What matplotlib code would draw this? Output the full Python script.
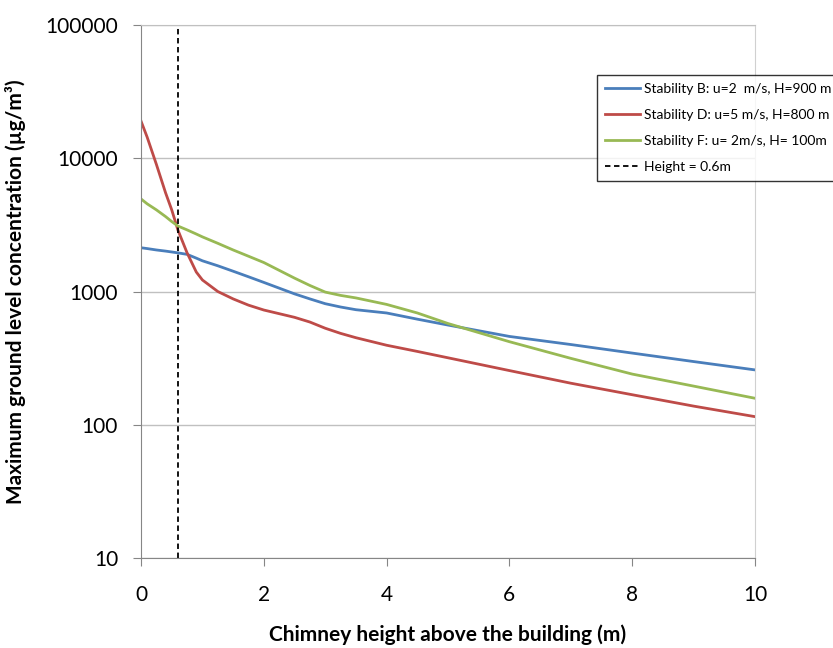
import matplotlib
matplotlib.use("Agg")
import matplotlib.pyplot as plt
from matplotlib.ticker import FixedLocator, FixedFormatter, NullLocator

plt.rcParams['font.family'] = ['Lato', 'DejaVu Sans']

# Chimney height above the building (m)
height = [0, 0.1, 0.25, 0.4, 0.5, 0.6, 0.75, 0.9, 1, 1.25, 1.5, 1.75, 2, 2.5, 2.75, 3, 3.25, 3.5, 4, 4.5, 5, 6, 7, 8, 9, 10]

# Maximum ground level concentration (ug/m3)
conc_b = [2130, 2100, 2050, 2010, 1980, 1950, 1900, 1780, 1700, 1560, 1420, 1290, 1170, 960, 880, 810, 765, 730, 690, 620, 560, 460, 400, 345, 298, 258]
conc_d = [19000, 14400, 9000, 5500, 4100, 2900, 1950, 1400, 1220, 1000, 880, 790, 726, 640, 590, 530, 485, 450, 395, 355, 318, 255, 205, 168, 138, 115]
conc_f = [4950, 4550, 4100, 3650, 3350, 3100, 2900, 2700, 2570, 2300, 2050, 1840, 1650, 1260, 1110, 990, 935, 895, 800, 690, 575, 420, 315, 240, 195, 158]

marker_height = 0.6

labels = ["Stability B: u=2  m/s, H=900 m",
          "Stability D: u=5 m/s, H=800 m",
          "Stability F: u= 2m/s, H= 100m",
          "Height = 0.6m"]

y_ticks = [10, 100, 1000, 10000, 100000]
x_ticks = [0, 2, 4, 6, 8, 10]

fig = plt.figure(figsize=(8.33, 6.48), dpi=100)
ax = fig.add_axes([0.1693, 0.1389, 0.9064 - 0.1693, 0.9614 - 0.1389])

ax.plot(height, conc_b, color='#4a7ebb', lw=2.0, label=labels[0])
ax.plot(height, conc_d, color='#be4b48', lw=2.0, label=labels[1])
ax.plot(height, conc_f, color='#98b954', lw=2.0, label=labels[2])
ax.axvline(marker_height, color='black', lw=1.3, ls=(0, (3, 2)), label=labels[3])

ax.set_yscale('log')
ax.set_ylim(10, 100000)
ax.set_xlim(0, 10)
ax.yaxis.set_major_locator(FixedLocator(y_ticks))
ax.yaxis.set_major_formatter(FixedFormatter([str(v) for v in y_ticks]))
ax.yaxis.set_minor_locator(NullLocator())
ax.set_xticks(x_ticks)
ax.set_xticklabels([str(v) for v in x_ticks])

ax.grid(axis='y', color='#c0c0c0', lw=1)
ax.set_axisbelow(True)
for side in ['left', 'bottom']:
    ax.spines[side].set_color('#868686')
ax.spines['right'].set_color('#d0d0d0')
ax.spines['top'].set_color('#c0c0c0')
ax.tick_params(axis='both', labelsize=15, color='#868686', length=5.5, direction='out')
ax.tick_params(axis='x', pad=14)
ax.tick_params(axis='y', pad=11)

ax.set_xlabel('Chimney height above the building (m)', fontsize=15, fontweight='bold', labelpad=14)
ax.set_ylabel('Maximum ground level concentration (µg/m³)', fontsize=15, fontweight='bold', labelpad=14)

leg = fig.legend(loc='upper left', bbox_to_anchor=(597 / 833, 1 - 75 / 648),
                 fontsize=10, frameon=True, fancybox=False, handlelength=2.5,
                 handletextpad=0.3, borderaxespad=0, labelspacing=1.0, borderpad=0.6)
leg.get_frame().set_edgecolor('black')
leg.get_frame().set_linewidth(1)

fig.savefig('out.png', dpi=100)
